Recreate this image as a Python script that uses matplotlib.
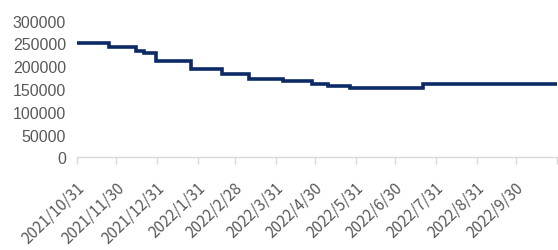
import pandas as pd
import matplotlib
matplotlib.use('Agg')
import matplotlib.pyplot as plt
import matplotlib.transforms as mtransforms

# step changes
change_dates = ['2021-10-31', '2021-11-24', '2021-12-15', '2021-12-21', '2021-12-30',
                '2022-01-26', '2022-02-18', '2022-03-11', '2022-04-06', '2022-04-28',
                '2022-05-10', '2022-05-27', '2022-07-21', '2022-10-31']
values = [250000, 241000, 234000, 228000, 211000,
          193000, 183000, 172000, 167000, 161000,
          156000, 153000, 162000, 162000]

tick_dates = ['2021-10-31', '2021-11-30', '2021-12-31', '2022-01-31', '2022-02-28',
              '2022-03-31', '2022-04-30', '2022-05-31', '2022-06-30', '2022-07-31',
              '2022-08-31', '2022-09-30', '2022-10-31']
tick_labels = ['2021/10/31', '2021/11/30', '2021/12/31', '2022/1/31', '2022/2/28',
               '2022/3/31', '2022/4/30', '2022/5/31', '2022/6/30', '2022/7/31',
               '2022/8/31', '2022/9/30', '']

x = pd.to_datetime(change_dates)
ticks = pd.to_datetime(tick_dates)

plt.rcParams['font.family'] = ['Liberation Sans', 'DejaVu Sans']
fig = plt.figure(figsize=(5.58, 2.51), dpi=100)
ax = fig.add_axes([0.138, 0.369, 0.860, 0.545])

ax.plot(x, values, drawstyle='steps-post', color='#0b2a66', lw=2.6, solid_joinstyle='miter')

ax.set_xlim(ticks[0], ticks[-1])
ax.set_ylim(0, 300000)
ax.set_yticks(range(0, 300001, 50000))
ax.tick_params(axis='y', length=0, labelsize=11.5, labelcolor='#595959', pad=8)

ax.set_xticks(ticks)
ax.set_xticklabels(tick_labels, rotation=44, ha='right', va='center', rotation_mode='anchor',
                   family=['Noto Sans CJK SC', 'DejaVu Sans'])
ax.tick_params(axis='x', length=5, color='#d9d9d9', width=1, labelsize=11,
               labelcolor='#595959', pad=4)
offset = mtransforms.ScaledTranslation(5 / 100, -15 / 100, fig.dpi_scale_trans)
for lab in ax.get_xticklabels():
    lab.set_transform(lab.get_transform() + offset)

for side in ['top', 'right', 'left']:
    ax.spines[side].set_visible(False)
ax.spines['bottom'].set_color('#d9d9d9')
ax.spines['bottom'].set_linewidth(1)

fig.savefig('out.png', dpi=100)
